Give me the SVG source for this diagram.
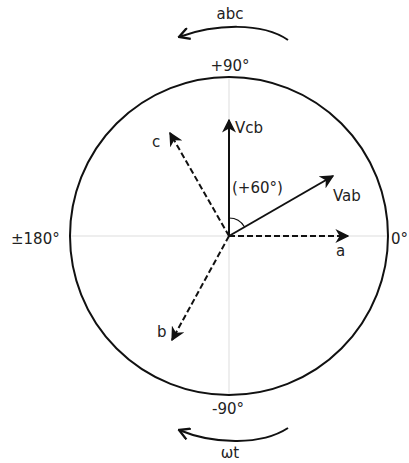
<svg xmlns="http://www.w3.org/2000/svg" width="409" height="463" viewBox="0 0 409 463">
<style>
text{font-family:"DejaVu Sans","Liberation Sans",sans-serif;font-size:15px;fill:#222}
.m{text-anchor:middle}
.axis{stroke:#ddd;stroke-width:1;fill:none}
.solid{stroke:#111;stroke-width:2;fill:none}
.dash{stroke:#111;stroke-width:2;fill:none;stroke-dasharray:6,3}
.thin{stroke:#111;stroke-width:1.2;fill:none}
</style>
<defs>
<marker id="ah2" viewBox="0 0 10 10" refX="9" refY="5" markerWidth="14" markerHeight="14" markerUnits="userSpaceOnUse" orient="auto">
<path d="M0,0 L10,5 L0,10 L3,5 z" fill="#111"/>
</marker>
<marker id="open" viewBox="0 0 10 10" refX="9" refY="5" markerWidth="13" markerHeight="13" markerUnits="userSpaceOnUse" orient="auto">
<path d="M1,0.5 L9,5 L1,9.5" fill="none" stroke="#111" stroke-width="1.8"/>
</marker>
</defs>
<g id="axes">
<line class="axis" x1="70" y1="236" x2="388" y2="236"/>
<line class="axis" x1="229" y1="77" x2="229" y2="395"/>
</g>
<g id="circle">
<circle cx="229" cy="236" r="159" fill="none" stroke="#111" stroke-width="2"/>
</g>
<g id="connectors">
<line class="solid" x1="229" y1="236" x2="229" y2="120" marker-end="url(#ah2)"/>
<line class="solid" x1="229" y1="236" x2="333" y2="176" marker-end="url(#ah2)"/>
<line class="dash" x1="229" y1="236" x2="348" y2="236" marker-end="url(#ah2)"/>
<line class="dash" x1="229" y1="236" x2="170" y2="133" marker-end="url(#ah2)"/>
<line class="dash" x1="229" y1="236" x2="172" y2="340" marker-end="url(#ah2)"/>
<path class="thin" d="M229,218 A18,18 0 0 1 244.6,227"/>
<path d="M288,40 C262,22 215,24 179,37" fill="none" stroke="#111" stroke-width="2" marker-end="url(#open)"/>
<path d="M288,428 C262,445 215,445 179,430" fill="none" stroke="#111" stroke-width="2" marker-end="url(#open)"/>
</g>
<g id="labels">
<text class="m" x="230" y="19">abc</text>
<text class="m" x="230" y="71">+90°</text>
<text x="235" y="133">Vcb</text>
<text x="152" y="147">c</text>
<text x="232" y="193">(+60°)</text>
<text x="333" y="201">Vab</text>
<text x="11" y="244">±180°</text>
<text x="391" y="244">0°</text>
<text x="336" y="256">a</text>
<text x="157" y="337">b</text>
<text class="m" x="228" y="414">-90°</text>
<text class="m" x="230" y="458">ωt</text>
</g>
</svg>
